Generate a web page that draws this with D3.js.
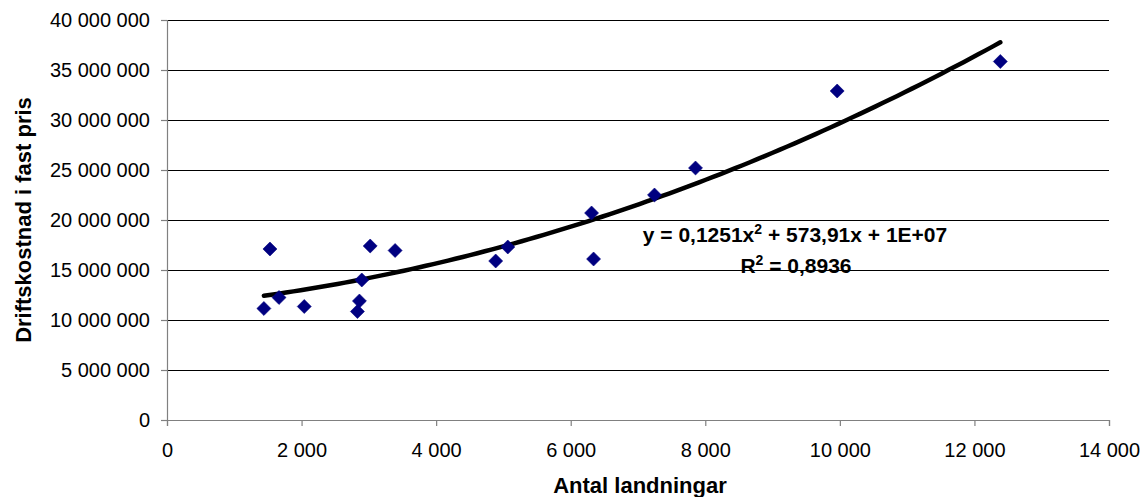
<!DOCTYPE html>
<html>
<head>
<meta charset="utf-8">
<script src="https://cdn.jsdelivr.net/npm/d3@7"></script>
<style>
  html, body { margin: 0; padding: 0; background: #fff; }
  text { font-family: "Liberation Sans", Arial, sans-serif; }
</style>
</head>
<body>
<svg id="chart" width="1144" height="497"></svg>
<script>
// Data
const landningar = [1440, 1530, 1665, 2040, 2830, 2860, 2895, 3020, 3390, 4885, 5065, 6310, 6340, 7245, 7855, 9960, 12385];
const driftskostnad = [11150000, 17100000, 12250000, 11350000, 10850000, 11900000, 14000000, 17400000, 16950000, 15900000, 17300000, 20700000, 16100000, 22500000, 25200000, 32900000, 35850000];
const xTicks = [0, 2000, 4000, 6000, 8000, 10000, 12000, 14000];
const yTicks = [0, 5000000, 10000000, 15000000, 20000000, 25000000, 30000000, 35000000, 40000000];
const xTitle = "Antal landningar";
const yTitle = "Driftskostnad i fast pris";
const eqLabel = ["y = 0,1251x", "2", " + 573,91x + 1E+07"];
const r2Label = ["R", "2", " = 0,8936"];

const svg = d3.select("#chart");
const x = d3.scaleLinear().domain([0, 14000]).range([167, 1109]);
const y = d3.scaleLinear().domain([0, 40000000]).range([420, 20]);
const loc = d3.formatLocale({decimal: ",", thousands: " ", grouping: [3], currency: ["", ""]});
const fmt = loc.format(",d");

// gridlines
svg.append("g").selectAll("line").data(yTicks.filter(d => d > 0)).join("line")
  .attr("x1", x(0)).attr("x2", x(14000))
  .attr("y1", d => y(d)).attr("y2", d => y(d))
  .attr("stroke", "#000").attr("stroke-width", 1).attr("shape-rendering", "crispEdges");

// axes
const xAxis = svg.append("g").attr("transform", `translate(0,${y(0)})`)
  .call(d3.axisBottom(x).tickValues(xTicks).tickFormat(fmt).tickSize(6).tickPadding(17));
const yAxis = svg.append("g").attr("transform", `translate(${x(0)},0)`)
  .call(d3.axisLeft(y).tickValues(yTicks).tickFormat(fmt).tickSize(6).tickPadding(11));
[xAxis, yAxis].forEach(g => {
  g.select(".domain").attr("stroke", "#808080").attr("stroke-width", 1.2);
  g.selectAll(".tick line").attr("stroke", "#808080").attr("stroke-width", 1.2);
  g.selectAll(".tick text").attr("fill", "#000").style("font-size", "20px")
    .style("font-family", '"Liberation Sans", Arial, sans-serif');
});

// quadratic least-squares trendline
function fitQuad(xs, ys) {
  const n = xs.length;
  let s = [0,0,0,0,0], t = [0,0,0];
  for (let i = 0; i < n; i++) {
    const xi = xs[i], yi = ys[i];
    for (let k = 0; k < 5; k++) s[k] += Math.pow(xi, k);
    for (let k = 0; k < 3; k++) t[k] += yi * Math.pow(xi, k);
  }
  const M = [[s[0], s[1], s[2], t[0]], [s[1], s[2], s[3], t[1]], [s[2], s[3], s[4], t[2]]];
  for (let c = 0; c < 3; c++) {
    for (let r = c + 1; r < 3; r++) {
      const f = M[r][c] / M[c][c];
      for (let k = c; k < 4; k++) M[r][k] -= f * M[c][k];
    }
  }
  const sol = [0,0,0];
  for (let r = 2; r >= 0; r--) {
    let v = M[r][3];
    for (let k = r + 1; k < 3; k++) v -= M[r][k] * sol[k];
    sol[r] = v / M[r][r];
  }
  return sol; // c0, c1, c2
}
const coef = fitQuad(landningar, driftskostnad);
const xmin = d3.min(landningar), xmax = d3.max(landningar);
const curve = d3.range(0, 101).map(i => {
  const xv = xmin + (xmax - xmin) * i / 100;
  return [xv, coef[0] + coef[1] * xv + coef[2] * xv * xv];
});
svg.append("path").datum(curve)
  .attr("d", d3.line().x(d => x(d[0])).y(d => y(d[1])))
  .attr("fill", "none").attr("stroke", "#000").attr("stroke-width", 4.5)
  .attr("stroke-linecap", "round");

// markers
const pts = landningar.map((v, i) => [v, driftskostnad[i]]);
svg.append("g").selectAll("path").data(pts).join("path")
  .attr("transform", d => `translate(${x(d[0])},${y(d[1])})`)
  .attr("d", d3.symbol().type(d3.symbolDiamond2).size(125))
  .attr("fill", "#000080").attr("stroke", "#000080").attr("stroke-width", 0.6);

// equation labels
function supText(parts, cx, by) {
  const t = svg.append("text").attr("x", cx).attr("y", by).attr("text-anchor", "middle")
    .style("font-size", "21px").style("font-weight", "bold").attr("fill", "#000");
  t.append("tspan").text(parts[0]);
  t.append("tspan").attr("dy", -8).style("font-size", "14px").text(parts[1]);
  t.append("tspan").attr("dy", 8).text(parts[2]);
}
supText(eqLabel, 795, 242);
supText(r2Label, 796, 273);

// axis titles
svg.append("text").attr("x", 640).attr("y", 493).attr("text-anchor", "middle")
  .style("font-size", "22px").style("font-weight", "bold").text(xTitle);
svg.append("text").attr("transform", "translate(31,220) rotate(-90)").attr("text-anchor", "middle")
  .style("font-size", "22px").style("font-weight", "bold").text(yTitle);
</script>
</body>
</html>
